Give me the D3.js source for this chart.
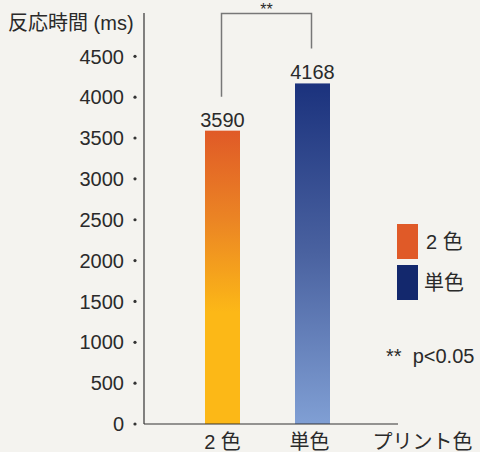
<!DOCTYPE html>
<html>
<head>
<meta charset="utf-8">
<script src="https://cdn.jsdelivr.net/npm/d3@7"></script>
<style>
  html, body { margin: 0; padding: 0; background: #f4f3ef; }
  svg { display: block; }
  text { font-family: "Liberation Sans", "Noto Sans CJK JP", sans-serif; fill: #2a2a2a; }
</style>
</head>
<body>
<svg id="chart" width="480" height="452"></svg>
<script>
// Reaction time by print colour
const categories = ["2 色", "単色", "プリント色"];
const barCategories = ["2 色", "単色"];
const values = [3590, 4168];
const yTicks = [0, 500, 1000, 1500, 2000, 2500, 3000, 3500, 4000, 4500];
const yTitle = "反応時間 (ms)";
const legendLabels = ["2 色", "単色"];
const significanceMark = "**";
const significanceNote = "**  p<0.05";

const svg = d3.select("#chart");
const W = 480, H = 452, FS = 20;
svg.append("rect").attr("width", W).attr("height", H).attr("fill", "#f4f3ef");

const x0 = 144, yBase = 424, yTop = 13;
const y = d3.scaleLinear().domain([0, 5030]).range([yBase, yTop]);
const x = d3.scalePoint().domain(categories).range([222.5, 402.5]);
const barW = 35;

// gradients
const defs = svg.append("defs");
const gOrange = defs.append("linearGradient").attr("id", "gOrange")
  .attr("x1", 0).attr("y1", 0).attr("x2", 0).attr("y2", 1);
gOrange.append("stop").attr("offset", "0%").attr("stop-color", "#e05a27");
gOrange.append("stop").attr("offset", "30%").attr("stop-color", "#eb8424");
gOrange.append("stop").attr("offset", "62%").attr("stop-color", "#fcb817");
gOrange.append("stop").attr("offset", "100%").attr("stop-color", "#fcb817");
const gBlue = defs.append("linearGradient").attr("id", "gBlue")
  .attr("x1", 0).attr("y1", 0).attr("x2", 0).attr("y2", 1);
gBlue.append("stop").attr("offset", "0%").attr("stop-color", "#1b327d");
gBlue.append("stop").attr("offset", "50%").attr("stop-color", "#4a62a0");
gBlue.append("stop").attr("offset", "100%").attr("stop-color", "#809fd4");
const fills = ["url(#gOrange)", "url(#gBlue)"];
const legendColors = ["#e05a28", "#13286d"];

// bars
svg.selectAll("rect.bar").data(values).join("rect")
  .attr("class", "bar")
  .attr("x", (d, i) => x(barCategories[i]) - barW / 2)
  .attr("y", d => y(d))
  .attr("width", barW)
  .attr("height", d => yBase - y(d))
  .attr("fill", (d, i) => fills[i]);

// value labels
svg.selectAll("text.val").data(values).join("text")
  .attr("class", "val")
  .attr("x", (d, i) => x(barCategories[i]))
  .attr("y", d => y(d) - 4)
  .attr("text-anchor", "middle")
  .attr("font-size", FS)
  .text(d => d);

// axes lines
svg.append("line").attr("x1", x0).attr("x2", x0).attr("y1", yTop).attr("y2", yBase)
  .attr("stroke", "#333").attr("stroke-width", 1.2);
svg.append("line").attr("x1", x0).attr("x2", 398).attr("y1", yBase).attr("y2", yBase)
  .attr("stroke", "#333").attr("stroke-width", 1.2);

// y ticks: dot markers + labels
const yt = svg.append("g");
yt.selectAll("circle").data(yTicks).join("circle")
  .attr("cx", 135).attr("cy", d => y(d)).attr("r", 1.6).attr("fill", "#333");
yt.selectAll("text").data(yTicks).join("text")
  .attr("x", 124).attr("y", d => y(d)).attr("dy", "0.36em")
  .attr("text-anchor", "end").attr("font-size", FS)
  .text(d => d);

// x labels
svg.selectAll("text.xl").data(categories).join("text")
  .attr("class", "xl")
  .attr("x", (d, i) => x(d) + (i === 2 ? 20 : 0) - (i === 1 ? 3 : 0))
  .attr("y", 449)
  .attr("text-anchor", "middle").attr("font-size", FS)
  .text(d => d);

// y title
svg.append("text").attr("x", 8).attr("y", 30).attr("font-size", FS).text(yTitle);

// significance bracket
const bx1 = x(barCategories[0]) - 1, bx2 = x(barCategories[1]) - 1, by = 13.5;
svg.append("path")
  .attr("d", `M${bx1},${y(values[0]) - 34}V${by}H${bx2}V${y(values[1]) - 35}`)
  .attr("fill", "none").attr("stroke", "#777").attr("stroke-width", 1.5);
svg.append("text").attr("x", (bx1 + bx2) / 2).attr("y", 14.5)
  .attr("text-anchor", "middle").attr("font-size", 16).text(significanceMark);

// legend
const lg = svg.append("g");
legendLabels.forEach((lab, i) => {
  lg.append("rect").attr("x", 397).attr("y", 224 + i * 41).attr("width", 21).attr("height", 35)
    .attr("fill", legendColors[i]);
  lg.append("text").attr("x", i === 0 ? 426 : 424).attr("y", 224 + i * 41 + 17.5).attr("dy", "0.36em")
    .attr("font-size", FS).text(lab);
});
svg.append("text").attr("x", 386).attr("y", 363).attr("font-size", FS)
  .style("white-space", "pre").text(significanceNote);
</script>
</body>
</html>
